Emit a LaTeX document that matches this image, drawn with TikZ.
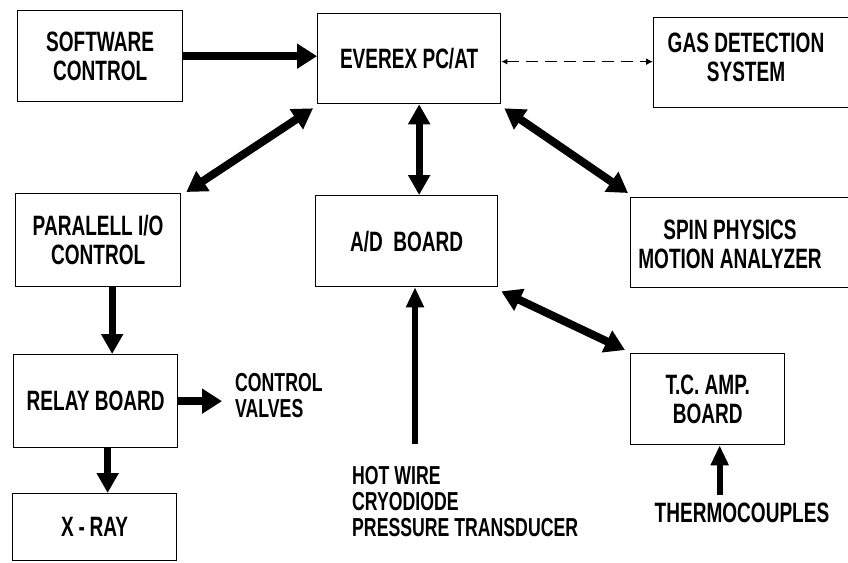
\documentclass[tikz,border=0pt]{standalone}
\usepackage{fontspec}
\setmainfont{Liberation Sans}[FakeStretch=0.68]
\usetikzlibrary{arrows.meta}
\begin{document}
\begin{tikzpicture}[x=1pt,y=-1pt,
  frame/.style={draw, line width=1.3pt, inner sep=0pt, anchor=north west},
  txt/.style={font=\fontsize{28}{29}\selectfont\bfseries, align=center, inner sep=0pt},
  ltxt/.style={font=\fontsize{26}{26}\selectfont\bfseries, align=left, inner sep=0pt},
  fat/.style={line width=8pt, -{Triangle[length=20pt,width=24pt]}},
  fatboth/.style={line width=8pt, {Triangle[length=20pt,width=23pt]}-{Triangle[length=20pt,width=23pt]}},
  mid/.style={line width=7pt, -{Triangle[length=20pt,width=21pt]}},
  thin/.style={line width=6pt, -{Triangle[length=20pt,width=17pt]}},
  dsh/.style={line width=1.6pt, dash pattern=on 12pt off 7pt, {Latex[length=6pt,width=6pt]}-{Latex[length=7pt,width=7pt]}}
]
\useasboundingbox (0,0) rectangle (848,562);
\clip (0,0) rectangle (848,562);

% boxes
\node[frame, txt, minimum width=165pt, minimum height=91pt] (sw) at (17,10) {SOFTWARE\\CONTROL};
\node[frame, txt, minimum width=183pt, minimum height=90pt] (ev) at (317,13) {EVEREX PC/AT};
\node[frame, minimum width=220pt, minimum height=90pt] (gas) at (653,17) {};
\node[txt] (gastxt) at (746,57) {GAS DETECTION\\SYSTEM};
\node[frame, txt, minimum width=165pt, minimum height=93pt] (par) at (15,193) {PARALELL I/O\\CONTROL};
\node[frame, txt, minimum width=182pt, minimum height=91pt] (ad) at (315,195) {A/D\ \ BOARD};
\node[frame, minimum width=240pt, minimum height=90pt] (spin) at (630,197) {};
\node[txt] (spintxt) at (730,244) {SPIN PHYSICS\\MOTION ANALYZER};
\node[frame, txt, minimum width=164pt, minimum height=93pt] (relay) at (13,354) {RELAY BOARD};
\node[frame, txt, minimum width=164pt, minimum height=67pt] (xray) at (12,493) {X\,-\,RAY};
\node[frame, txt, minimum width=154pt, minimum height=91pt] (tc) at (630,353) {T.C. AMP.\\BOARD};

% free texts
\node[ltxt, anchor=north west] (cv) at (235,373) {CONTROL\\VALVES};
\node[ltxt, anchor=north west] (hw) at (352,466) {HOT WIRE\\CRYODIODE\\PRESSURE TRANSDUCER};
\node[txt] (thermo) at (742,513) {THERMOCOUPLES};
\coordinate (hwend) at (415,444);

% connectors
\draw[fat] (sw.east) -- (sw.east -| ev.west);
\draw[dsh] ([yshift=-3pt]ev.east) -- ([yshift=-3pt]ev.east -| gas.west);
\draw[fatboth] ([shift={(-4pt,-4pt)}]ev.south west) -- ([shift={(5pt,1pt)}]par.north east);
\draw[mid, {Triangle[length=20pt,width=21pt]}-{Triangle[length=20pt,width=21pt]}] ([xshift=10pt]ev.south) -- ([xshift=10pt]ev.south |- ad.north);
\draw[fatboth] ([shift={(3pt,-4pt)}]ev.south east) -- ([shift={(-2pt,4pt)}]spin.north west);
\draw[mid] ([xshift=14pt]par.south) -- ([xshift=14pt]par.south |- relay.north);
\draw[thin] (hwend) -- (hwend |- ad.south);
\draw[fatboth] ([shift={(3pt,-4pt)}]ad.south east) -- ([shift={(-5pt,3pt)}]tc.north west);
\draw[fat, shorten >=13pt] (relay.east) -- (relay.east -| cv.west);
\draw[mid] ([xshift=12pt]relay.south) -- ([xshift=12pt]relay.south |- xray.north);
\draw[thin, shorten <=8pt] ([xshift=12pt]tc.south |- thermo.north) -- ([xshift=12pt]tc.south);
\end{tikzpicture}
\end{document}
